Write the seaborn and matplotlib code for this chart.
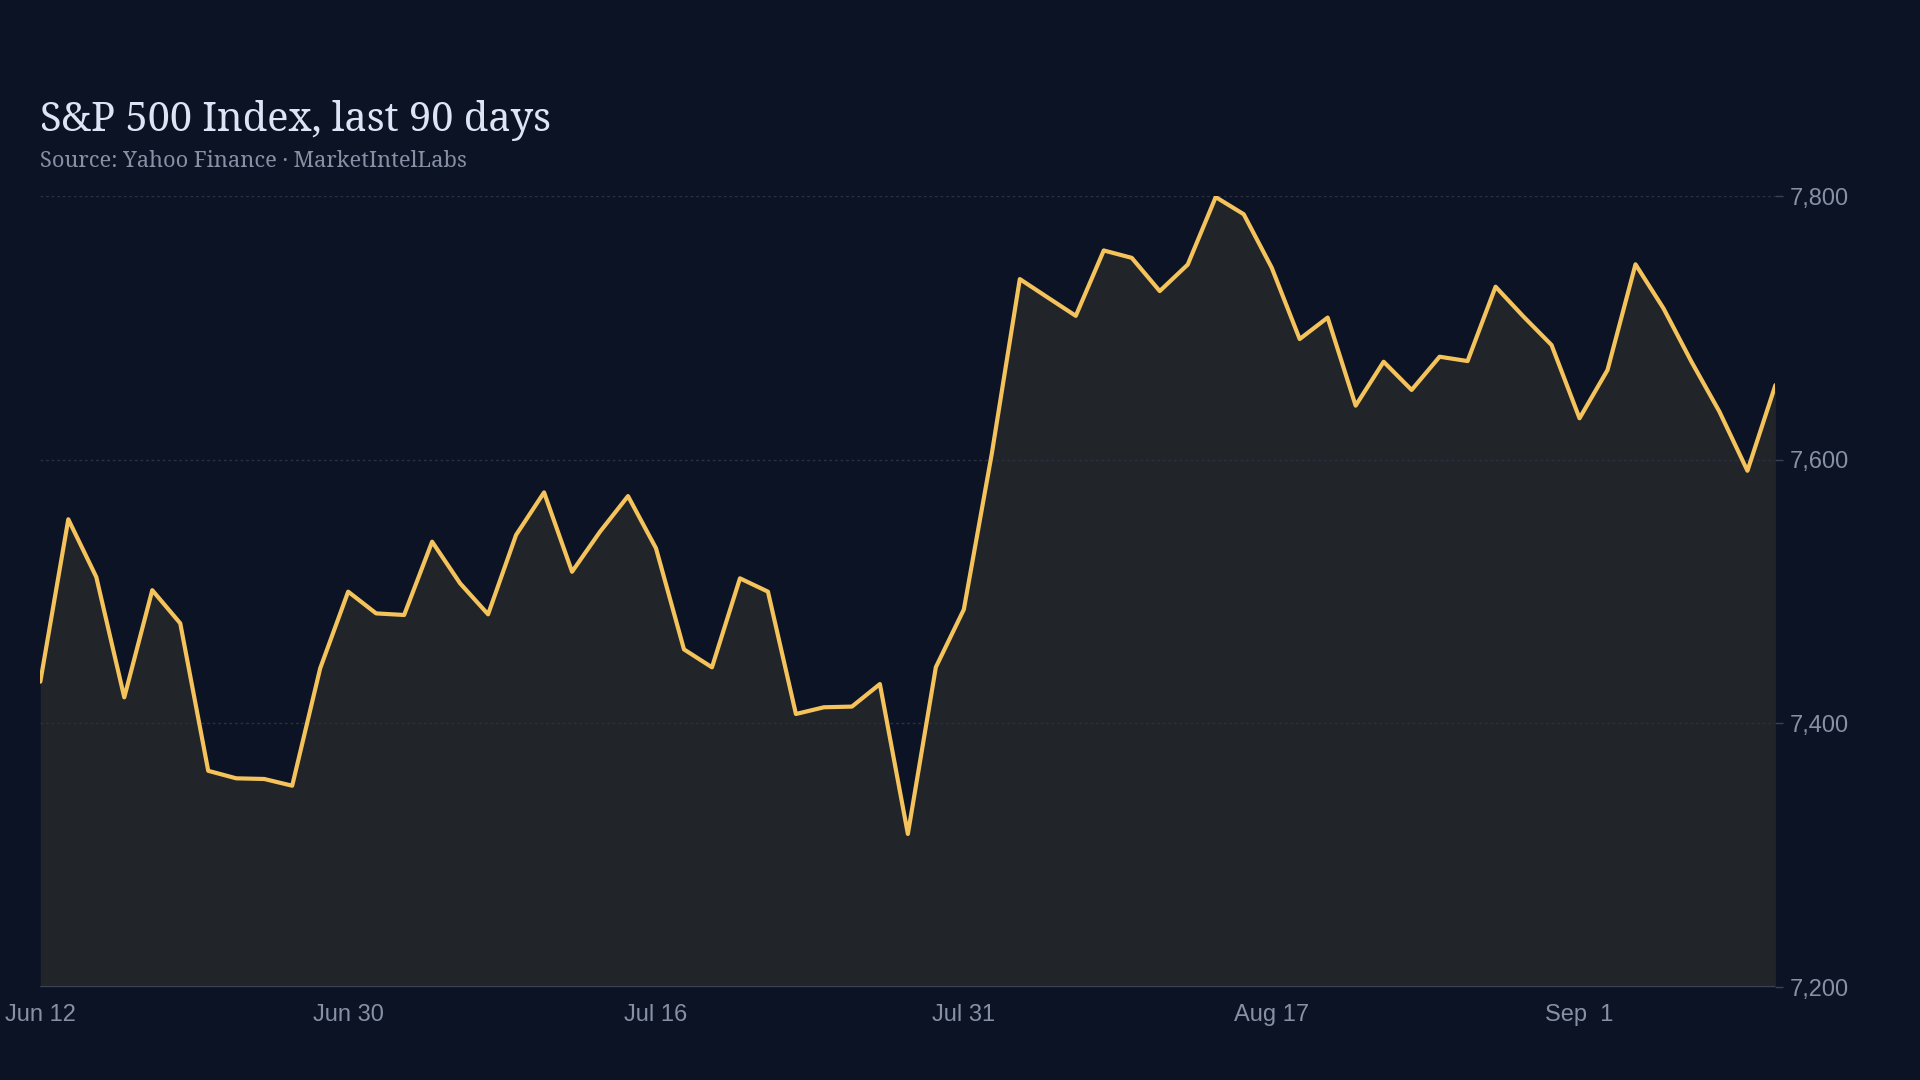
import numpy as np
import pandas as pd
import seaborn as sns
import matplotlib.pyplot as plt
from matplotlib.ticker import FuncFormatter

# S&P 500 closes, one value per trading session
closes = [
    7431.6, 7554.8, 7511.0, 7419.7, 7501.0, 7475.9, 7364.0, 7358.3, 7357.8, 7352.7,
    7441.7, 7499.9, 7483.4, 7482.2, 7537.8, 7506.2, 7482.7, 7542.9, 7575.2, 7515.0,
    7545.4, 7572.4, 7532.8, 7456.1, 7442.5, 7510.0, 7499.9, 7407.1, 7412.2, 7412.7,
    7429.8, 7316.1, 7442.6, 7486.4, 7604.7, 7737.0, 7723.0, 7709.1, 7758.7, 7753.1,
    7727.9, 7748.0, 7799.2, 7786.2, 7745.7, 7691.5, 7707.8, 7641.0, 7674.3, 7652.9,
    7678.1, 7674.8, 7731.2, 7708.5, 7687.0, 7631.4, 7668.0, 7748.2, 7714.8, 7674.3,
    7636.4, 7591.6, 7656.6,
]
date_labels = ["Jun 12", "Jun 30", "Jul 16", "Jul 31", "Aug 17", "Sep  1"]
label_every = 11
y_ticks = [7200, 7400, 7600, 7800]

df = pd.DataFrame({"session": np.arange(len(closes)), "close": closes})

bg = "#0c1325"
muted = "#8790a4"

sns.set_theme(style="dark", rc={
    "figure.facecolor": bg,
    "axes.facecolor": bg,
    "axes.edgecolor": bg,
})
plt.rcParams["font.family"] = ["Liberation Sans", "DejaVu Sans"]

fig = plt.figure(figsize=(19.2, 10.8), dpi=100)
ax = fig.add_axes([0.021, 0.0861, 0.9037, 0.7324])

ax.fill_between(df["session"], df["close"], 7200, color="#212429", linewidth=0, zorder=1)
sns.lineplot(data=df, x="session", y="close", ax=ax, color="#f4c35b", linewidth=3.0, zorder=3)

ax.set_xlim(0, len(closes) - 1)
ax.set_ylim(7200, 7800)

# grid + baseline
for v in y_ticks[1:]:
    ax.axhline(v, color="#2a3040", linewidth=1, linestyle=(0, (2, 2)), zorder=2)
ax.axhline(7200, color="#3a4150", linewidth=1.5, zorder=2)

ax.yaxis.tick_right()
ax.set_yticks(y_ticks)
ax.yaxis.set_major_formatter(FuncFormatter(lambda v, p: f"{v:,.0f}"))
ax.tick_params(axis="y", colors="#3a4150", labelcolor=muted, labelsize=17,
               length=6, width=1, pad=4, right=True)
ax.set_xticks(np.arange(0, len(closes), label_every)[:len(date_labels)])
ax.set_xticklabels(date_labels)
ax.tick_params(axis="x", labelcolor=muted, labelsize=17, length=0, pad=12)
ax.set_xlabel("")
ax.set_ylabel("")
ax.grid(False)
for s in ax.spines.values():
    s.set_visible(False)

fig.text(0.021, 0.879, "S&P 500 Index, last 90 days", color="#dde4f4",
         fontsize=28.7, family=["Noto Serif", "DejaVu Serif"], va="baseline")
fig.text(0.021, 0.845, "Source: Yahoo Finance · MarketIntelLabs", color=muted,
         fontsize=15.7, family=["Noto Serif", "DejaVu Serif"], va="baseline")

fig.savefig("out.png", dpi=100, facecolor=bg)
